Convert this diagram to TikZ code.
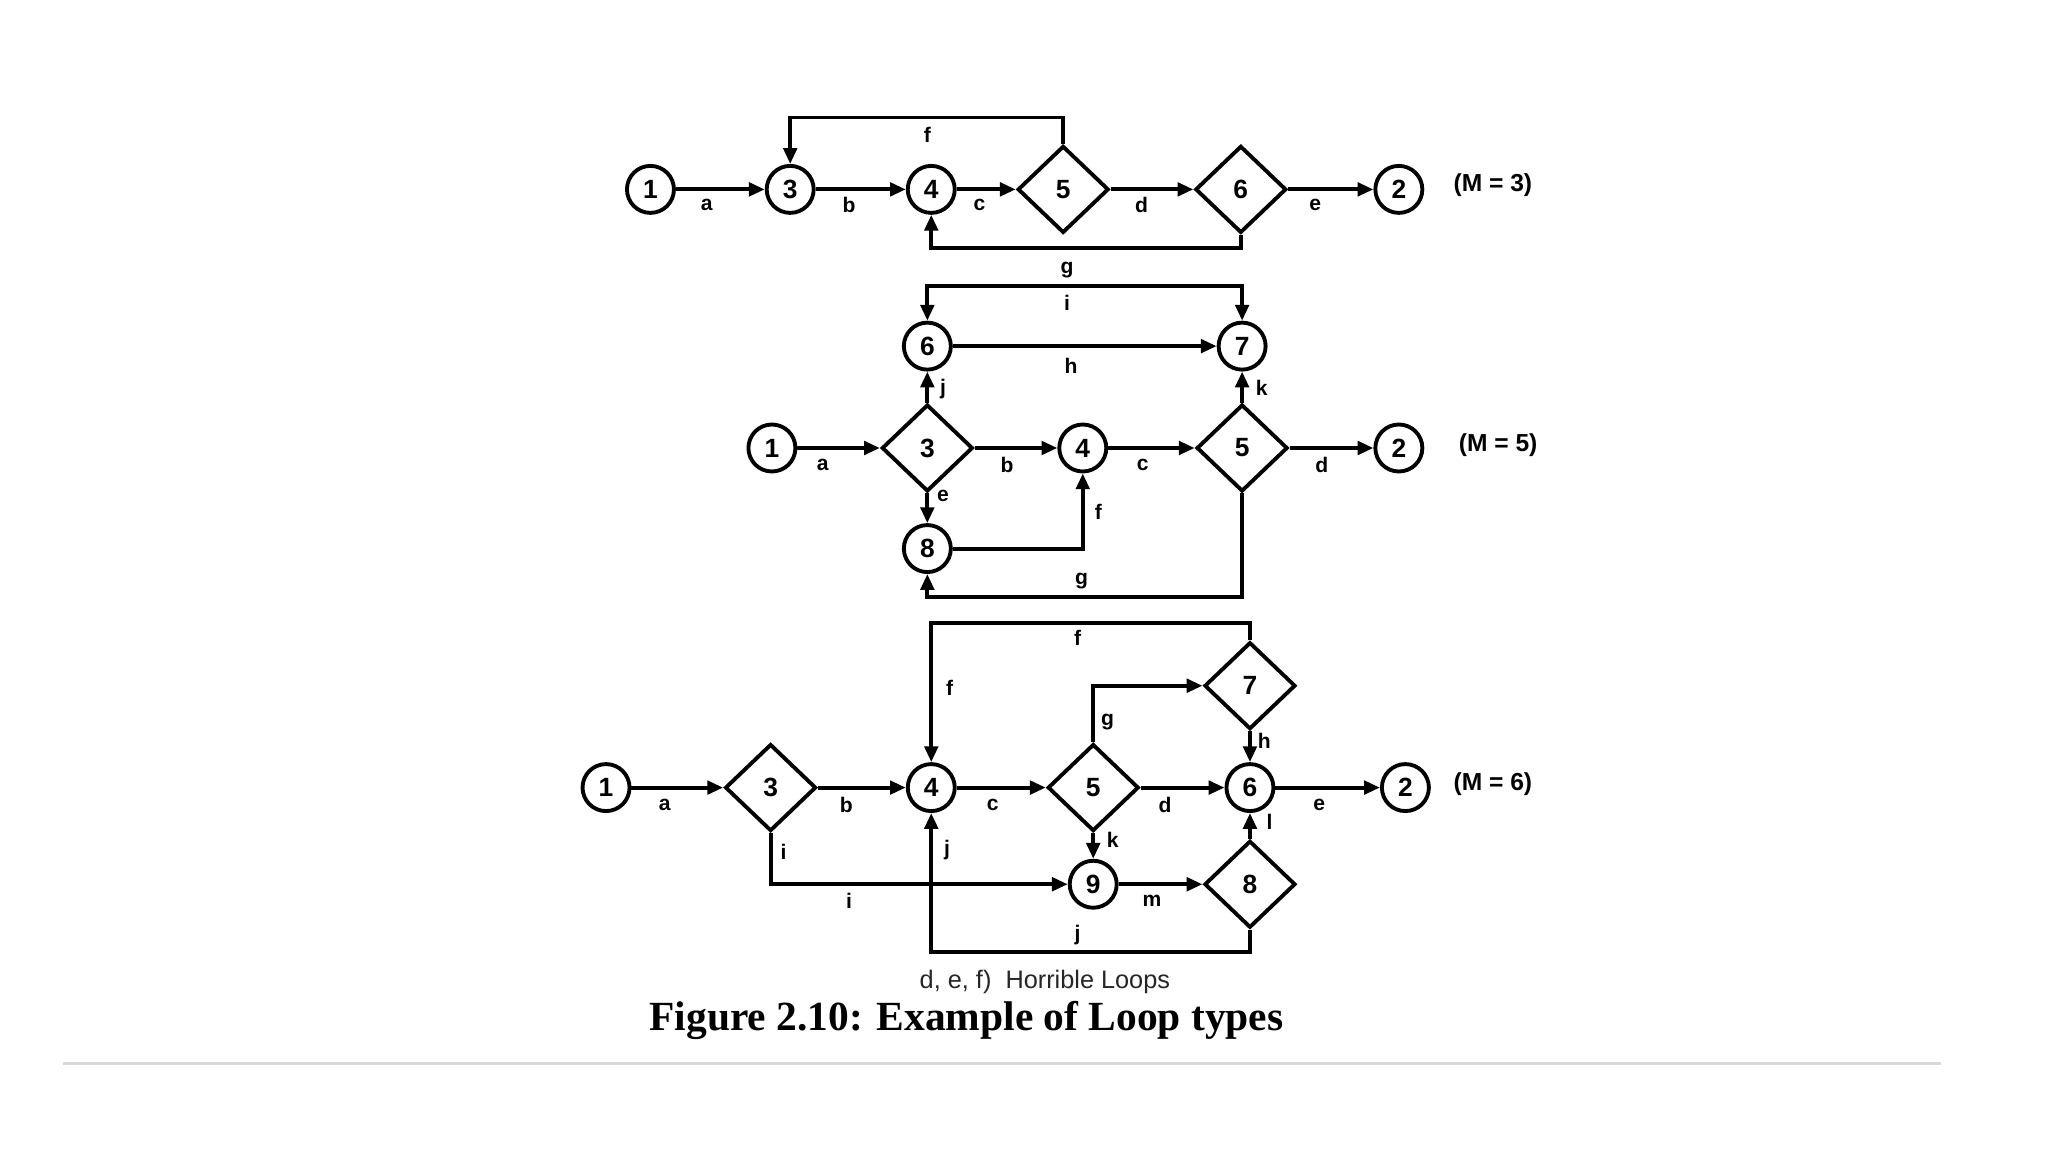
\documentclass[tikz,border=0pt]{standalone}
\usepackage{fontspec}
\setmainfont{Liberation Serif}
\setsansfont{Liberation Sans}
\usetikzlibrary{shapes.geometric,arrows.meta}
\begin{document}
\begin{tikzpicture}[x=0.01306cm,y=-0.01306cm,
  ln/.style={line width=1.1pt},
  arr/.style={line width=1.1pt,-{Triangle[length=4.5pt,width=3.8pt]}},
  dbl/.style={line width=1.1pt,{Triangle[length=4.5pt,width=3.8pt]}-{Triangle[length=4.5pt,width=3.8pt]}},
  circ/.style={circle,draw,line width=1.1pt,minimum size=0.47cm,inner sep=0pt,font=\sffamily\bfseries\fontsize{7.5}{7.5}\selectfont},
  dia/.style={diamond,draw,line width=1.1pt,minimum width=0.91cm,minimum height=0.87cm,inner sep=0pt,font=\sffamily\bfseries\fontsize{7.5}{7.5}\selectfont},
  lab/.style={inner sep=0pt,font=\sffamily\bfseries\fontsize{6}{6}\selectfont},
  mlab/.style={inner sep=0pt,font=\sffamily\bfseries\fontsize{7}{7}\selectfont}]
\useasboundingbox[fill=white] (0,0) rectangle (1568,882);

% ---------- Diagram 1 ----------
\node[circ] (a1) at (498,145) {1};
\node[circ] (a3) at (605,145) {3};
\node[circ] (a4) at (713,145) {4};
\node[dia]  (a5) at (814,145) {5};
\node[dia]  (a6) at (950,145) {6};
\node[circ] (a2) at (1071,145) {2};
\node[mlab] (am) at (1143,142) {(M = 3)};
\coordinate (af) at (710,90);
\coordinate (ag) at (830,190);
\draw[arr] (a1) -- (a3);
\draw[arr] (a3) -- (a4);
\draw[arr] (a4) -- (a5);
\draw[arr] (a5) -- (a6);
\draw[arr] (a6) -- (a2);
\draw[arr] (a5.north) |- (af) -| (a3);
\draw[arr] (a6.south) |- (ag) -| (a4);
\node[lab] (la) at (541,157) {a};
\node[lab] (lb) at (650,157) {b};
\node[lab] (lc) at (750,157) {c};
\node[lab] (ld) at (874,157) {d};
\node[lab] (le) at (1007,157) {e};
\node[lab] (lf) at (710,103) {f};
\node[lab] (lg) at (817,207) {g};

% ---------- Diagram 2 ----------
\node[circ] (b1) at (591,343) {1};
\node[dia]  (b3) at (710,343) {3};
\node[circ] (b4) at (829,343) {4};
\node[dia]  (b5) at (951,343) {5};
\node[circ] (b2) at (1071,343) {2};
\node[circ] (b6) at (710,265) {6};
\node[circ] (b7) at (951,265) {7};
\node[circ] (b8) at (710,420) {8};
\node[mlab] (bm) at (1147,341) {(M = 5)};
\coordinate (bt) at (830,219);
\coordinate (bb) at (830,457);
\draw[arr] (b1) -- (b3);
\draw[arr] (b3) -- (b4);
\draw[arr] (b4) -- (b5);
\draw[arr] (b5) -- (b2);
\draw[arr] (b3) -- (b6);
\draw[arr] (b5) -- (b7);
\draw[arr] (b6) -- (b7);
\draw[dbl] (b6) |- (bt) -| (b7);
\draw[arr] (b3) -- (b8);
\draw[arr] (b8) -| (b4);
\draw[arr] (b5.south) |- (bb) -| (b8);
\node[lab] (ma) at (630,356) {a};
\node[lab] (mb) at (771,356) {b};
\node[lab] (mc) at (875,356) {c};
\node[lab] (md) at (1012,356) {d};
\node[lab] (mj) at (722,298) {j};
\node[lab] (mk) at (966,297) {k};
\node[lab] (mh) at (820,280) {h};
\node[lab] (mi) at (817,232) {i};
\node[lab] (me) at (722,380) {e};
\node[lab] (mf) at (841,392) {f};
\node[lab] (mg2) at (828,445) {g};

% ---------- Diagram 3 ----------
\node[circ] (c1) at (464,603) {1};
\node[dia]  (c3) at (590,603) {3};
\node[circ] (c4) at (713,603) {4};
\node[dia]  (c5) at (837,603) {5};
\node[circ] (c6) at (957,603) {6};
\node[circ] (c2) at (1076,603) {2};
\node[dia]  (c7) at (957,525) {7};
\node[circ] (c9) at (837,677) {9};
\node[dia]  (c8) at (957,677) {8};
\node[mlab] (cm) at (1143,600) {(M = 6)};
\coordinate (ct) at (830,477);
\coordinate (cb) at (830,729);
\draw[arr] (c1) -- (c3);
\draw[arr] (c3) -- (c4);
\draw[arr] (c4) -- (c5);
\draw[arr] (c5) -- (c6);
\draw[arr] (c6) -- (c2);
\draw[arr] (c5.north) |- (c7);
\draw[arr] (c7) -- (c6);
\draw[arr] (c7.north) |- (ct) -| (c4);
\draw[arr] (c5) -- (c9);
\draw[arr] (c8) -- (c6);
\draw[arr] (c9) -- (c8);
\draw[arr] (c3.south) |- (c9);
\draw[arr] (c8.south) |- (cb) -| (c4);
\node[lab] (na) at (509,616) {a};
\node[lab] (nb) at (648,616) {b};
\node[lab] (nc) at (760,616) {c};
\node[lab] (nd) at (892,616) {d};
\node[lab] (ne) at (1010,616) {e};
\node[lab] (ng) at (848,553) {g};
\node[lab] (nh) at (968,567) {h};
\node[lab] (nf) at (825,488) {f};
\node[lab] (nf2) at (727,527) {f};
\node[lab] (nk) at (852,643) {k};
\node[lab] (nl) at (972,629) {l};
\node[lab] (nm) at (882,690) {m};
\node[lab] (ni) at (600,652) {i};
\node[lab] (ni2) at (650,690) {i};
\node[lab] (nj) at (725,651) {j};
\node[lab] (nj2) at (825,716) {j};

% ---------- Captions ----------
\node[inner sep=0pt,text=black!85,font=\sffamily\fontsize{7.2}{7.2}\selectfont] (sub) at (800,752) {d, e, f)\ \ Horrible Loops};
\node[inner sep=0pt,font=\rmfamily\bfseries\fontsize{11.8}{11.8}\selectfont] (cap) at (740,781) {Figure 2.10: Example of Loop types};
\draw[line width=0.8pt,black!15] (48,814) -- (1486,814);
\end{tikzpicture}
\end{document}
